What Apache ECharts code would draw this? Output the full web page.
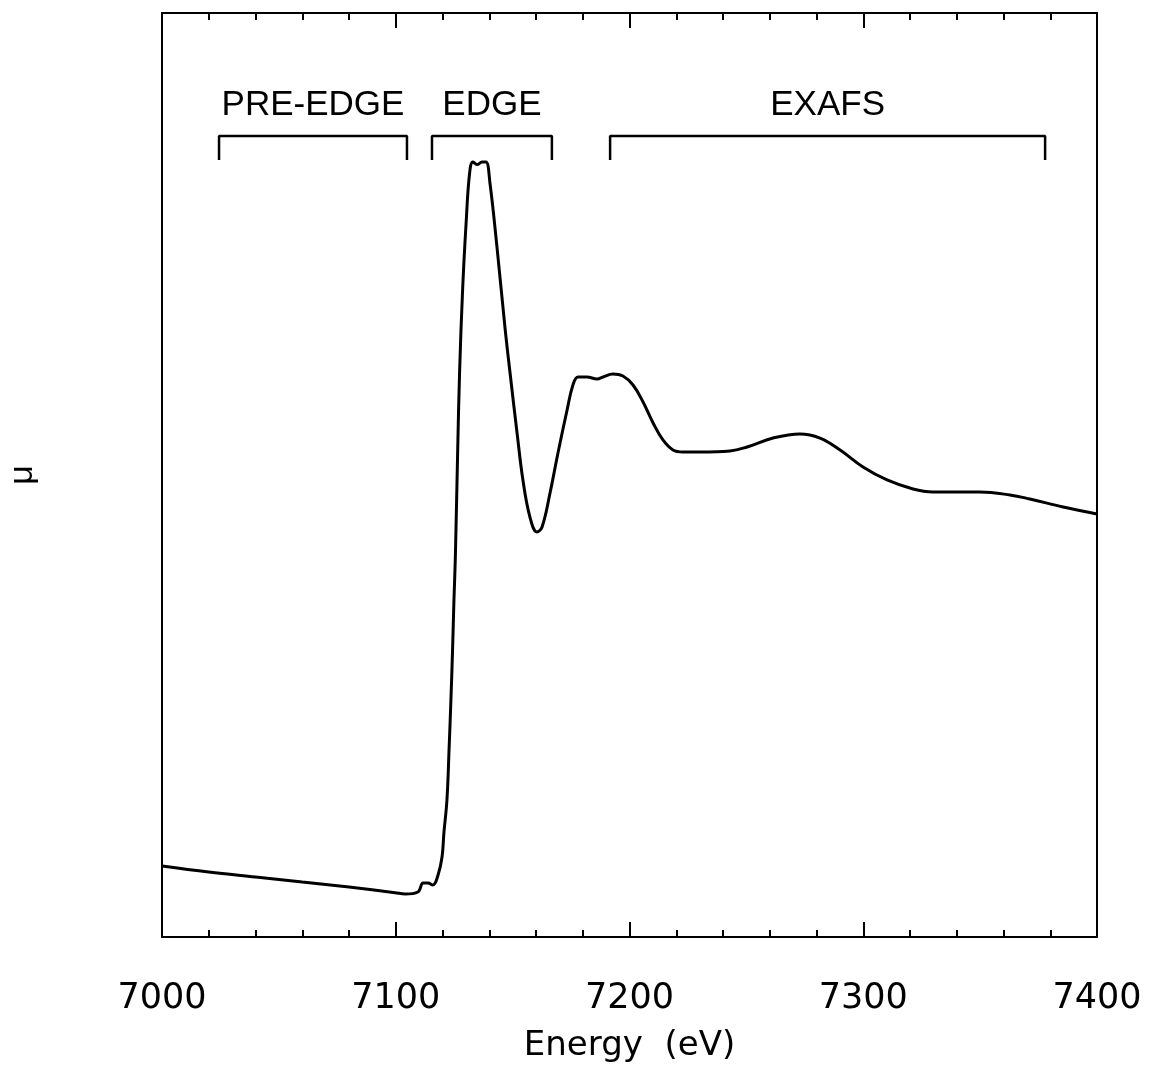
<!DOCTYPE html>
<html>
<head>
<meta charset="utf-8">
<script src="https://cdn.jsdelivr.net/npm/echarts@6/dist/echarts.min.js"></script>
<style>
html, body { margin: 0; padding: 0; background: #fff; }
#chart { width: 1149px; height: 1077px; }
</style>
</head>
<body>
<div id="chart"></div>
<script>
// absorption spectrum, energy (eV) and mu (arbitrary units, 0..100)
var energy = [7000, 7020, 7040, 7060, 7080, 7099.7, 7104, 7109.5, 7111.7, 7113.8, 7115.9, 7118.1,
	7119.8, 7120.6, 7121.9, 7122.8, 7123.6, 7124.3, 7124.9, 7125.5, 7126.5, 7127.3, 7128.6, 7130.1,
	7131.6, 7133, 7134.8, 7136.9, 7138.6, 7140.3, 7143.3, 7146.7, 7148.9, 7151.9, 7154.4,
	7157.4, 7160.4, 7162.6, 7166, 7169.4, 7173.3, 7175.8, 7178, 7181.8, 7186.1, 7188.7,
	7192.9, 7197.2, 7201.5, 7205.8, 7210.1, 7214.3, 7218.6, 7222.9, 7230.2, 7243, 7250.3,
	7261.4, 7272.9, 7281.5, 7290.1, 7299.9, 7310.2, 7321.3, 7329.8, 7349.9, 7362.8, 7371.3,
	7385.5, 7400];
var mu = [7.68, 7.03, 6.49, 5.95, 5.41, 4.8, 4.65, 4.87, 5.84, 5.84, 5.63, 6.71,
	8.66, 11.26, 14.83, 20.24, 25.65, 31.06, 36.47, 41.13, 52.71, 61.04, 70.02, 77.27,
	82.68, 83.87, 83.6, 83.87, 83.87, 81.6, 74.68, 66.02, 61.04, 54.55, 49.46,
	45.45, 43.83, 44.37, 48.05, 52.38, 57.03, 59.74, 60.61, 60.61, 60.39, 60.61,
	60.93, 60.71, 59.74, 57.9, 55.63, 53.79, 52.71, 52.49, 52.49, 52.6, 53.03,
	54, 54.44, 54, 52.71, 50.87, 49.46, 48.48, 48.16, 48.16, 47.84, 47.4,
	46.54, 45.78];

// region brackets: start, end (eV) and labels
var regionNames = ['PRE-EDGE', 'EDGE', 'EXAFS'];
var regionStart = [7024.4, 7115.5, 7191.7];
var regionEnd = [7104.8, 7166.8, 7377.8];
var bracketTop = 86.7;
var bracketFoot = 84.1;
var labelLevel = 90.0;

var xTicks = [7000, 7100, 7200, 7300, 7400];

var curve = energy.map(function(e, i) { return [e, mu[i]]; });

var series = [{
	type : 'line',
	data : curve,
	smooth : 0.4,
	symbol : 'none',
	lineStyle : { color : '#000', width : 3 }
}];

regionNames.forEach(function(name, i) {
	series.push({
		type : 'line',
		symbol : 'none',
		lineStyle : { color : '#000', width : 2.5 },
		data : [[regionStart[i], bracketFoot], [regionStart[i], bracketTop],
			[regionEnd[i], bracketTop], [regionEnd[i], bracketFoot]]
	});
});

series.push({
	type : 'scatter',
	symbolSize : 0,
	itemStyle : { opacity : 1 },
	data : regionNames.map(function(name, i) {
		return [(regionStart[i] + regionEnd[i]) / 2, labelLevel, name];
	}),
	label : {
		show : true,
		position : 'inside',
		formatter : function(p) { return p.value[2]; },
		color : '#000',
		fontFamily : 'Liberation Sans',
		fontSize : 35
	}
});

var tickStyle = {
	axisLine : { show : false },
	axisTick : { show : true, inside : true, length : 15, lineStyle : { color : '#000', width : 2 } },
	minorTick : { show : true, splitNumber : 5, length : 7, lineStyle : { color : '#000', width : 2 } },
	splitLine : { show : false }
};

var chart = echarts.init(document.getElementById('chart'));
chart.setOption({
	backgroundColor : '#fff',
	animation : false,
	grid : {
		left : 162, right : 52, top : 13, bottom : 140,
		show : true, borderColor : '#000', borderWidth : 2,
		outerBoundsMode : 'none'
	},
	xAxis : [Object.assign({
		type : 'value', min : 7000, max : 7400, interval : 100,
		position : 'bottom',
		axisLabel : {
			color : '#000', fontFamily : 'DejaVu Sans', fontSize : 35, margin : 44,
			formatter : function(v) { return xTicks.indexOf(v) >= 0 ? String(v) : ''; }
		},
		name : 'Energy  (eV)',
		nameLocation : 'middle',
		nameGap : 92,
		nameTextStyle : { color : '#000', fontFamily : 'DejaVu Sans', fontSize : 34 }
	}, tickStyle), Object.assign({
		type : 'value', min : 7000, max : 7400, interval : 100,
		position : 'top',
		axisLabel : { show : false }
	}, tickStyle)],
	yAxis : {
		type : 'value', min : 0, max : 100,
		axisLine : { show : false },
		axisTick : { show : false },
		axisLabel : { show : false },
		splitLine : { show : false },
		name : 'μ',
		nameLocation : 'middle',
		nameRotate : 90,
		nameGap : 122,
		nameTextStyle : { color : '#000', fontFamily : 'Liberation Sans', fontSize : 34 }
	},
	series : series
});
</script>
</body>
</html>
